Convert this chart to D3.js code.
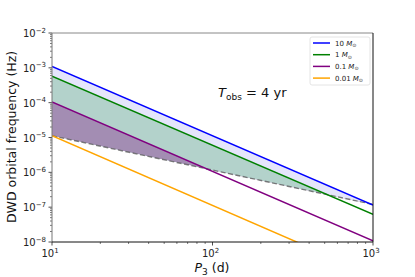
<!DOCTYPE html>
<html><head><meta charset="utf-8">
<script src="https://cdn.jsdelivr.net/npm/d3@7"></script>
<style>body{margin:0;background:#fff}svg{display:block}text{font-family:"DejaVu Sans",sans-serif}</style>
</head><body>
<svg id="c" width="415" height="277"></svg>
<script>
const periods = [10, 1000];
const seriesLabels = ["10", "1", "0.1", "0.01"];
const seriesColors = ["#0000ff", "#008000", "#800080", "#ffa500"];
const f10 = [1.1e-3, 1.15e-7];
const f1 = [5.8e-4, 6.2e-8];
const f01 = [1.05e-4, 1.08e-8];
const f001 = [1.12e-5, 1.12e-9];
const fLimit = [1.12e-5, 1.2e-7];
const xTicks = [10, 100, 1000];
const yTicks = [1e-8, 1e-7, 1e-6, 1e-5, 1e-4, 1e-3, 1e-2];

const svg = d3.select("#c");
const m = {l: 52, r: 42, t: 33, b: 35};
const W = 415, H = 277;
const x = d3.scaleLog().domain([10, 1000]).range([m.l, W - m.r]);
const y = d3.scaleLog().domain([1e-8, 1e-2]).range([H - m.b, m.t]);

const defs = svg.append("defs");
defs.append("clipPath").attr("id", "plot").append("rect")
  .attr("x", m.l).attr("y", m.t).attr("width", W - m.l - m.r).attr("height", H - m.t - m.b);
const idx = d3.range(periods.length);
defs.append("clipPath").attr("id", "above").append("path")
  .attr("d", d3.area().x(i => x(periods[i])).y0(i => y(fLimit[i])).y1(m.t)(idx));

const g = svg.append("g").attr("clip-path", "url(#plot)");
const band = (upper, fill) => g.append("g").attr("clip-path", "url(#above)").append("path")
  .attr("d", d3.area().x(i => x(periods[i])).y0(i => y(fLimit[i])).y1(i => y(upper[i]))(idx))
  .attr("fill", fill).attr("stroke", "none");
band(f10, "#e5e5fb");
band(f1, "#b3d2cb");
band(f01, "#a38db3");

const line = arr => d3.line().x(i => x(periods[i])).y(i => y(arr[i]))(idx);
g.append("path").attr("d", line(fLimit)).attr("fill", "none").attr("stroke", "#555")
  .attr("stroke-width", 1.4).attr("stroke-dasharray", "5,2.5").attr("opacity", 0.75);
const all = [f10, f1, f01, f001];
all.forEach((arr, k) => g.append("path").attr("d", line(arr)).attr("fill", "none")
  .attr("stroke", seriesColors[k]).attr("stroke-width", 1.5));

const ax = svg.append("g");
function supLabel(sel, base, exp, xx, yy, anchor) {
  const t = sel.append("text").attr("x", xx).attr("y", yy).attr("text-anchor", anchor)
    .attr("font-size", 10).attr("fill", "#222");
  t.append("tspan").text(base);
  t.append("tspan").attr("font-size", 7).attr("dy", -4.5).text(exp);
  return t;
}
const xMinor = [];
[10, 100].forEach(d => { for (let k = 2; k <= 9; k++) xMinor.push(d * k); });
xMinor.forEach(v => ax.append("line").attr("x1", x(v)).attr("x2", x(v))
  .attr("y1", H - m.b).attr("y2", H - m.b + 2).attr("stroke", "#222").attr("stroke-width", 0.6));
xTicks.forEach(v => {
  ax.append("line").attr("x1", x(v)).attr("x2", x(v)).attr("y1", H - m.b).attr("y2", H - m.b + 3.5)
    .attr("stroke", "#222").attr("stroke-width", 0.8);
  supLabel(ax, "10", String(Math.round(Math.log10(v))), x(v) - 2, H - m.b + 15, "middle");
});
const yMinor = [];
yTicks.slice(0, -1).forEach(d => { for (let k = 2; k <= 9; k++) yMinor.push(d * k); });
yMinor.forEach(v => ax.append("line").attr("x1", m.l).attr("x2", m.l - 2)
  .attr("y1", y(v)).attr("y2", y(v)).attr("stroke", "#222").attr("stroke-width", 0.6));
yTicks.forEach(v => {
  ax.append("line").attr("x1", m.l).attr("x2", m.l - 3.5).attr("y1", y(v)).attr("y2", y(v))
    .attr("stroke", "#222").attr("stroke-width", 0.8);
  const e = Math.round(Math.log10(v));
  supLabel(ax, "10", "\u2212" + Math.abs(e), m.l - 29, y(v) + 4, "start");
});
ax.append("line").attr("x1", m.l).attr("x2", W - m.r).attr("y1", m.t).attr("y2", m.t).attr("stroke", "#888").attr("stroke-width", 1);
ax.append("line").attr("x1", m.l).attr("x2", m.l).attr("y1", m.t).attr("y2", H - m.b).attr("stroke", "#777").attr("stroke-width", 1);
ax.append("line").attr("x1", W - m.r).attr("x2", W - m.r).attr("y1", m.t).attr("y2", H - m.b).attr("stroke", "#111").attr("stroke-width", 1);
ax.append("line").attr("x1", m.l).attr("x2", W - m.r).attr("y1", H - m.b).attr("y2", H - m.b).attr("stroke", "#111").attr("stroke-width", 1);

const xl = svg.append("text").attr("x", 212).attr("y", 272).attr("text-anchor", "middle").attr("font-size", 12.5).attr("fill", "#111");
xl.append("tspan").attr("font-style", "italic").text("P");
xl.append("tspan").attr("font-size", 9).attr("dy", 3).text("3");
xl.append("tspan").attr("dy", -3).text(" (d)");
svg.append("text").attr("transform", "translate(16,137) rotate(-90)").attr("text-anchor", "middle")
  .attr("font-size", 12.5).attr("fill", "#111").text("DWD orbital frequency (Hz)");

const an = svg.append("text").attr("x", 218).attr("y", 97).attr("font-size", 13).attr("fill", "#111");
an.append("tspan").attr("font-style", "italic").text("T");
an.append("tspan").attr("font-size", 9).attr("dy", 3).text("obs");
an.append("tspan").attr("dy", -3).text(" = 4 yr");

const lg = svg.append("g");
lg.append("rect").attr("x", 310).attr("y", 37).attr("width", 60).attr("height", 48).attr("rx", 2)
  .attr("fill", "#fff").attr("stroke", "#ddd").attr("stroke-width", 0.8);
seriesLabels.forEach((s, k) => {
  const yy = 43 + k * 11.7;
  lg.append("line").attr("x1", 313).attr("x2", 330).attr("y1", yy).attr("y2", yy)
    .attr("stroke", seriesColors[k]).attr("stroke-width", 1.5);
  const t = lg.append("text").attr("x", 335).attr("y", yy + 2.5).attr("font-size", 7).attr("fill", "#222");
  t.append("tspan").text(s + " ");
  t.append("tspan").attr("font-style", "italic").text("M");
  t.append("tspan").attr("font-size", 5).attr("dy", 1.5).text("\u2299");
});
</script>
</body></html>
